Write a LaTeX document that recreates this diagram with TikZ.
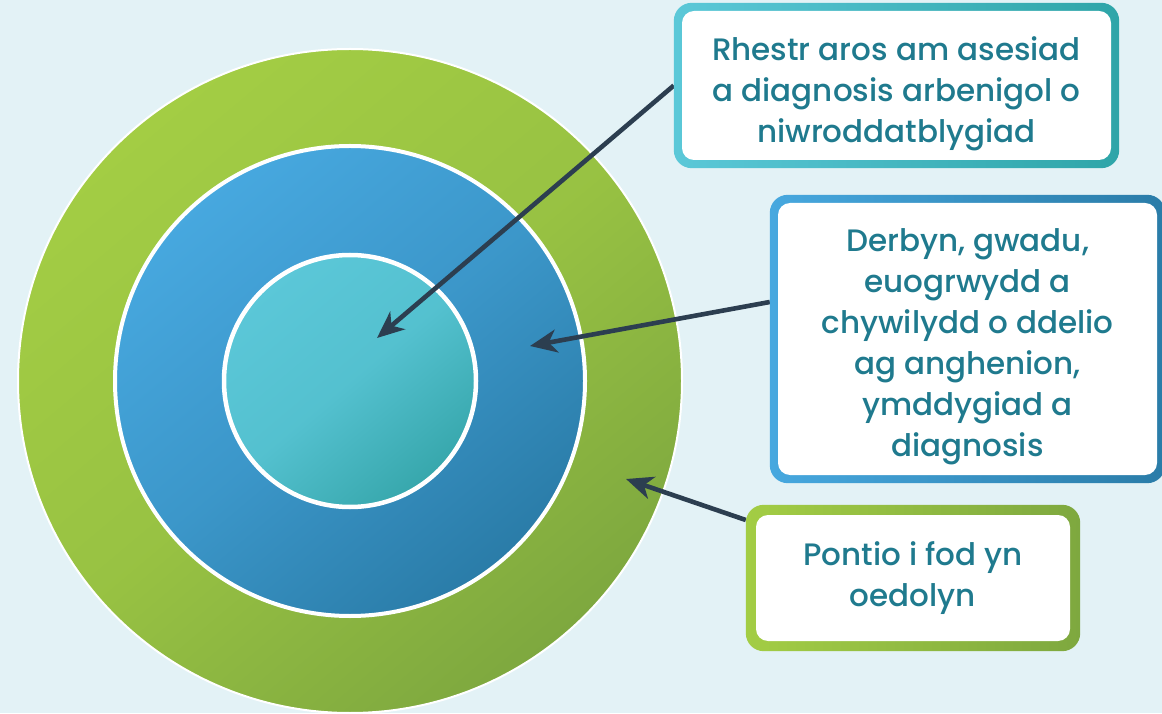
\documentclass[tikz,border=0pt]{standalone}
\usepackage{fontspec}
\setmainfont{Poppins}[UprightFont={* Medium}]
\usetikzlibrary{arrows.meta}
\definecolor{bg}{HTML}{E3F2F6}
\definecolor{gLight}{HTML}{A3CD44}
\definecolor{gDark}{HTML}{7EA83F}
\definecolor{bLight}{HTML}{47A8DF}
\definecolor{bDark}{HTML}{2A7CA8}
\definecolor{tLight}{HTML}{5BC7D8}
\definecolor{tDark}{HTML}{37A7AC}
\definecolor{arrowc}{HTML}{2C3E50}
\definecolor{txt}{HTML}{1F7A8E}
\definecolor{b1L}{HTML}{5BC8D8}
\definecolor{b1R}{HTML}{2EA5A8}
\tikzset{
  frame/.style={draw=none, rounded corners=18pt, inner sep=0pt},
  inner/.style={fill=white, rounded corners=12pt, inner sep=0pt},
  label text/.style={inner sep=0pt, align=center, text=txt,
    font=\fontsize{31}{41}\selectfont},
  pointer/.style={draw=arrowc, line width=4.6pt,
    -{Stealth[length=27pt, width=23pt, inset=8pt]}},
}
\begin{document}
\begin{tikzpicture}[x=1pt,y=1pt]
\fill[bg] (0,0) rectangle (1162,713);
\useasboundingbox (0,0) rectangle (1162,713);
% circles
\shade[top color=gLight, bottom color=gDark, middle color=gLight!70!gDark, shading angle=40, draw=white, line width=2pt] (350,332) circle (332);
\shade[top color=bLight, bottom color=bDark, middle color=bLight!60!bDark, shading angle=40, draw=white, line width=4pt] (350,332) circle (235);
\shade[top color=tLight, bottom color=tDark, middle color=tLight!80!tDark, shading angle=40, draw=white, line width=4.5pt] (350,332) circle (126);
% targets
\coordinate (t1) at (377,375);
\coordinate (t2) at (530,367);
\coordinate (t3) at (626,234);
% box frames (anchors for arrows)
\node[frame, minimum width=445pt, minimum height=165pt] (f1) at (896.5,627.5) {};
\node[frame, minimum width=395pt, minimum height=288pt] (f2) at (967.5,374) {};
\node[frame, minimum width=334pt, minimum height=146pt] (f3) at (913,135) {};
% arrows
\draw[pointer] (f1.west) -- (t1);
\draw[pointer] ([yshift=37pt]f2.west) -- (t2);
\draw[pointer] ([yshift=58pt]f3.west) -- (t3);
% frames shading
\shade[left color=b1L, right color=b1R, rounded corners=18pt] (f1.south west) rectangle (f1.north east);
\shade[left color=bLight, right color=bDark, rounded corners=18pt] (f2.south west) rectangle (f2.north east);
\shade[left color=gLight, right color=gDark, rounded corners=18pt] (f3.south west) rectangle (f3.north east);
% inner white boxes
\node[inner, minimum width=429pt, minimum height=149pt] (w1) at (f1) {};
\node[inner, minimum width=379pt, minimum height=272pt] (w2) at (f2) {};
\node[inner, minimum width=314pt, minimum height=126pt] (w3) at (f3) {};
% texts
\node[label text] (n1) at ([yshift=-8pt]w1.center) {Rhestr aros am asesiad\\a diagnosis arbenigol o\\niwroddatblygiad};
\node[label text] (n2) at ([yshift=-8pt]w2.center) {Derbyn, gwadu,\\euogrwydd a\\chywilydd o ddelio\\ag anghenion,\\ymddygiad a\\diagnosis};
\node[label text] (n3) at (w3.center) {Pontio i fod yn\\oedolyn};
\end{tikzpicture}
\end{document}
